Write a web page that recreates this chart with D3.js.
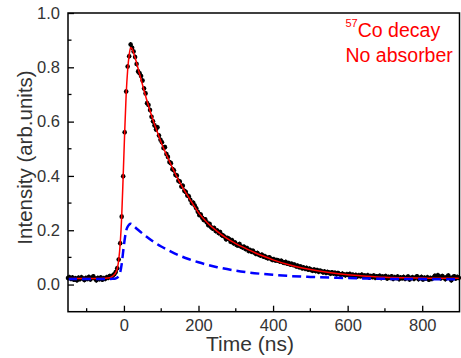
<!doctype html>
<html lang="en">
  <head>
    <meta charset="utf-8">
    <title>57Co decay</title>
    <script src="https://d3js.org/d3.v7.min.js"></script>
    <style>
      body { margin: 0; background: #fff; }
      text { font-family: Arial, "Liberation Sans", sans-serif; }
    </style>
  </head>
  <body>
<div id="my_dataviz"></div>

<script>

    // measured counts, one point every 4 ns starting at -150 ns
    var timeStart = -150, timeStep = 4;
    var counts = [
      0.024, 0.027, 0.021, 0.026, 0.018, 0.023, 0.016, 0.025, 0.020, 0.027,
      0.022, 0.017, 0.024, 0.021, 0.028, 0.019, 0.025, 0.030, 0.022, 0.016,
      0.024, 0.020, 0.026, 0.018, 0.023, 0.021, 0.027, 0.025, 0.031, 0.029,
      0.033, 0.038, 0.046, 0.060, 0.092, 0.152, 0.250, 0.399, 0.561, 0.711,
      0.803, 0.841, 0.884, 0.872, 0.858, 0.838, 0.812, 0.785, 0.778, 0.768,
      0.751, 0.722, 0.704, 0.668, 0.661, 0.643, 0.618, 0.601, 0.586, 0.571,
      0.579, 0.549, 0.533, 0.524, 0.503, 0.506, 0.481, 0.470, 0.451, 0.447,
      0.425, 0.421, 0.404, 0.401, 0.382, 0.379, 0.361, 0.364, 0.345, 0.341,
      0.328, 0.325, 0.312, 0.300, 0.301, 0.291, 0.281, 0.268, 0.256, 0.258,
      0.246, 0.238, 0.240, 0.229, 0.219, 0.223, 0.211, 0.206, 0.208, 0.197,
      0.199, 0.190, 0.193, 0.182, 0.180, 0.176, 0.167, 0.171, 0.168, 0.158,
      0.163, 0.152, 0.155, 0.146, 0.144, 0.149, 0.140, 0.137, 0.139, 0.131,
      0.134, 0.124, 0.127, 0.121, 0.124, 0.117, 0.113, 0.116, 0.110, 0.107,
      0.110, 0.103, 0.104, 0.099, 0.097, 0.100, 0.095, 0.091, 0.093, 0.089,
      0.090, 0.088, 0.085, 0.087, 0.082, 0.080, 0.083, 0.077, 0.079, 0.074,
      0.076, 0.072, 0.073, 0.067, 0.069, 0.064, 0.066, 0.060, 0.063, 0.058,
      0.061, 0.055, 0.058, 0.054, 0.051, 0.055, 0.050, 0.053, 0.047, 0.051,
      0.049, 0.045, 0.048, 0.043, 0.046, 0.044, 0.040, 0.045, 0.041, 0.043,
      0.038, 0.042, 0.039, 0.036, 0.040, 0.037, 0.034, 0.038, 0.035, 0.039,
      0.033, 0.036, 0.032, 0.035, 0.030, 0.034, 0.031, 0.036, 0.029, 0.033,
      0.030, 0.034, 0.026, 0.031, 0.028, 0.033, 0.025, 0.030, 0.027, 0.032,
      0.024, 0.029, 0.026, 0.031, 0.022, 0.028, 0.025, 0.030, 0.021, 0.027,
      0.024, 0.029, 0.020, 0.026, 0.023, 0.028, 0.021, 0.025, 0.029, 0.019,
      0.024, 0.027, 0.021, 0.026, 0.030, 0.020, 0.024, 0.028, 0.019, 0.025,
      0.022, 0.027, 0.018, 0.024, 0.021, 0.026, 0.032, 0.027, 0.034, 0.029,
      0.023, 0.031, 0.026, 0.020, 0.028, 0.033, 0.024, 0.016, 0.027, 0.030,
      0.022, 0.028, 0.025
    ];
    var countError = 0.009;

    // red fit curve
    var fitTime = [-150, -80, -50, -38, -30, -22, -18, -14, -10, -6, -2, 2, 6, 10, 14,
      18, 22, 26, 30, 40, 50, 60, 70, 80, 90, 100, 115, 130, 150, 175,
      200, 225, 250, 275, 300, 325, 350, 375, 400, 450, 500, 550, 600, 650, 700,
      750, 800, 850, 900];
    var fitValue = [0.022, 0.022, 0.023, 0.025, 0.031, 0.044, 0.058, 0.090, 0.150, 0.250, 0.400, 0.560, 0.700, 0.790, 0.845,
      0.873, 0.868, 0.853, 0.835, 0.785, 0.735, 0.685, 0.640, 0.598, 0.560, 0.523, 0.475, 0.430, 0.375, 0.318,
      0.265, 0.226, 0.196, 0.171, 0.151, 0.134, 0.118, 0.104, 0.091, 0.070, 0.055, 0.044, 0.036, 0.031, 0.027,
      0.025, 0.024, 0.023, 0.023];

    // blue dashed component
    var compTime = [-150, -60, -30, -20, -15, -10, -6, -3, 0, 3, 6, 10, 14, 18, 22,
      30, 40, 60, 80, 100, 125, 150, 175, 200, 250, 300, 350, 400, 450, 500,
      600, 700, 800, 900];
    var compValue = [0.020, 0.020, 0.021, 0.024, 0.030, 0.045, 0.075, 0.110, 0.145, 0.175, 0.198, 0.213, 0.221, 0.224, 0.222,
      0.211, 0.199, 0.177, 0.157, 0.140, 0.122, 0.106, 0.093, 0.082, 0.064, 0.051, 0.042, 0.036, 0.031, 0.028,
      0.024, 0.021, 0.020, 0.019];

    var xMajor = [0, 200, 400, 600, 800];
    var xMinor = [-100, 100, 300, 500, 700];
    var yMajor = [0.0, 0.2, 0.4, 0.6, 0.8, 1.0];
    var yMinor = [0.1, 0.3, 0.5, 0.7, 0.9];

    var W = 461, H = 358;
    var plotLeft = 68, plotRight = 459.5, plotTop = 13, plotBottom = 311.7;

    var svg = d3.select("#my_dataviz")
      .append("svg")
        .attr("width", W)
        .attr("height", H);

    var x = d3.scaleLinear().domain([-150, 900]).range([plotLeft, plotRight]);
    var y = d3.scaleLinear().domain([-0.1, 1.0]).range([plotBottom, plotTop]);

    var points = counts.map(function(v, i) { return {t: timeStart + i * timeStep, v: v}; });

    // data points with error bars
    var g = svg.append("g");
    g.selectAll(".err")
      .data(points)
      .enter()
      .append("line")
        .attr("x1", function(d) { return x(d.t); })
        .attr("x2", function(d) { return x(d.t); })
        .attr("y1", function(d) { return y(d.v - countError); })
        .attr("y2", function(d) { return y(d.v + countError); })
        .attr("stroke", "#000")
        .attr("stroke-width", 1.2);
    g.selectAll(".pt")
      .data(points)
      .enter()
      .append("circle")
        .attr("cx", function(d) { return x(d.t); })
        .attr("cy", function(d) { return y(d.v); })
        .attr("r", 2.3)
        .attr("fill", "#000");

    // fit line
    var fitLine = d3.line()
      .x(function(d) { return x(d[0]); })
      .y(function(d) { return y(d[1]); })
      .curve(d3.curveMonotoneX);

    svg.append("path")
      .datum(fitTime.map(function(t, i) { return [t, fitValue[i]]; }))
      .attr("d", fitLine)
      .attr("fill", "none")
      .attr("stroke", "#ff0000")
      .attr("stroke-width", 1.5);

    svg.append("path")
      .datum(compTime.map(function(t, i) { return [t, compValue[i]]; }))
      .attr("d", fitLine)
      .attr("fill", "none")
      .attr("stroke", "#0000ff")
      .attr("stroke-width", 2.5)
      .attr("stroke-dasharray", "9,5");

    // frame
    svg.append("rect")
      .attr("x", plotLeft)
      .attr("y", plotTop)
      .attr("width", plotRight - plotLeft)
      .attr("height", plotBottom - plotTop)
      .attr("fill", "none")
      .attr("stroke", "#000")
      .attr("stroke-width", 1.5);

    // bottom axis, ticks pointing in
    var xAxis = svg.append("g").attr("transform", "translate(0," + plotBottom + ")");
    xAxis.call(d3.axisBottom(x).tickValues(xMajor).tickSizeInner(-6).tickSizeOuter(0).tickPadding(7.5))
    xAxis.select(".domain").remove();
    xAxis.selectAll("text")
      .attr("font-size", "16.5px")
      .attr("fill", "#333")
      .attr("font-family", "Arial, 'Liberation Sans', sans-serif");
    xAxis.selectAll(".tick line").attr("stroke-width", 1.3);
    xAxis.selectAll(".minor")
      .data(xMinor)
      .enter()
      .append("line")
        .attr("x1", function(d) { return x(d); })
        .attr("x2", function(d) { return x(d); })
        .attr("y1", 0)
        .attr("y2", -3.5)
        .attr("stroke", "#000")
        .attr("stroke-width", 1.3);

    // left axis
    var yAxis = svg.append("g").attr("transform", "translate(" + plotLeft + ",0)");
    yAxis.call(d3.axisLeft(y).tickValues(yMajor).tickFormat(d3.format(".1f")).tickSizeInner(-6).tickSizeOuter(0).tickPadding(8))
    yAxis.select(".domain").remove();
    yAxis.selectAll("text")
      .attr("font-size", "16.5px")
      .attr("fill", "#333")
      .attr("font-family", "Arial, 'Liberation Sans', sans-serif");
    yAxis.selectAll(".tick line").attr("stroke-width", 1.3);
    yAxis.selectAll(".minor")
      .data(yMinor)
      .enter()
      .append("line")
        .attr("x1", 0)
        .attr("x2", 3.5)
        .attr("y1", function(d) { return y(d); })
        .attr("y2", function(d) { return y(d); })
        .attr("stroke", "#000")
        .attr("stroke-width", 1.3);

    // axis titles
    svg.append("text")
      .attr("x", 250)
      .attr("y", 350.5)
      .attr("text-anchor", "middle")
      .attr("font-size", "21px")
      .attr("fill", "#333")
      .text("Time (ns)");

    svg.append("text")
      .attr("transform", "translate(32,157.5) rotate(-90)")
      .attr("text-anchor", "middle")
      .attr("font-size", "20.5px")
      .attr("fill", "#333")
      .text("Intensity (arb.units)");

    // legend text
    var note = svg.append("text")
      .attr("x", 345.5)
      .attr("y", 37.3)
      .attr("fill", "#ff0000")
      .attr("font-size", "19.5px");
    note.append("tspan").attr("font-size", "11px").attr("dy", -10.5).text("57");
    note.append("tspan").attr("dy", 10.5).text("Co decay");

    svg.append("text")
      .attr("x", 345.5)
      .attr("y", 62.3)
      .attr("fill", "#ff0000")
      .attr("font-size", "19.5px")
      .text("No absorber");

</script>
</body>
</html>
